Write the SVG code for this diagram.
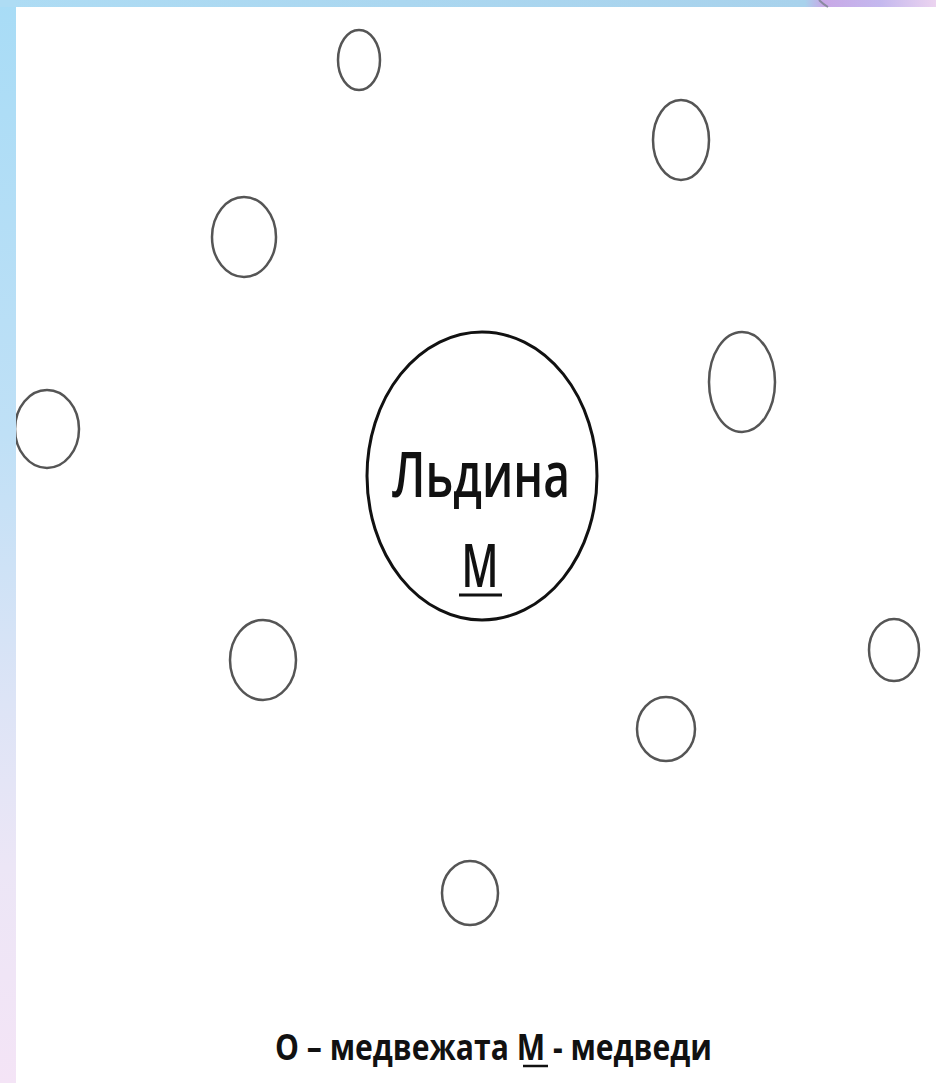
<svg xmlns="http://www.w3.org/2000/svg" width="936" height="1083" viewBox="0 0 936 1083">
<defs>
<linearGradient id="lg" x1="0" y1="0" x2="0" y2="1">
<stop offset="0" stop-color="#a8dcf6"/>
<stop offset="0.4" stop-color="#bfe0f6"/>
<stop offset="0.65" stop-color="#dde4f6"/>
<stop offset="0.8" stop-color="#ece6f6"/>
<stop offset="1" stop-color="#f4e4f6"/>
</linearGradient>
<linearGradient id="tg" x1="0" y1="0" x2="1" y2="0">
<stop offset="0" stop-color="#aedcf4"/>
<stop offset="0.86" stop-color="#a8d2ec"/>
<stop offset="0.88" stop-color="#c8a8e6"/>
<stop offset="0.94" stop-color="#c4b8ee"/>
<stop offset="1" stop-color="#ecd4f0"/>
</linearGradient>
<style>
.s{fill:none;stroke:#555;stroke-width:2.5}
.t{font-family:"Open Sans","Liberation Sans",sans-serif;fill:#111}
</style>
</defs>
<rect x="0" y="0" width="936" height="1083" fill="#fff"/>
<rect x="0" y="0" width="936" height="7" fill="url(#tg)"/>
<path d="M819 0 Q823 4 828 7" stroke="#8a8aa0" stroke-width="2" fill="none"/>
<g id="main">
<ellipse cx="482" cy="476" rx="115" ry="144" fill="none" stroke="#111" stroke-width="3"/>
<text class="t" x="481" y="497" font-size="64" font-weight="600" text-anchor="middle" textLength="178" lengthAdjust="spacingAndGlyphs">Льдина</text>
<text class="t" x="480" y="587" font-size="60" font-weight="600" text-anchor="middle" textLength="37" lengthAdjust="spacingAndGlyphs">М</text>
<line x1="459" y1="595" x2="502" y2="595" stroke="#111" stroke-width="3"/>
</g>
<g id="c1"><ellipse class="s" cx="359" cy="60" rx="21" ry="30"/></g>
<g id="c2"><ellipse class="s" cx="681" cy="140" rx="28" ry="40"/></g>
<g id="c3"><ellipse class="s" cx="244" cy="237" rx="32" ry="40"/></g>
<g id="c4"><ellipse class="s" cx="742" cy="382" rx="33" ry="50"/></g>
<g id="c5"><ellipse class="s" cx="47" cy="429" rx="32" ry="39"/></g>
<g id="c6"><ellipse class="s" cx="263" cy="660" rx="33" ry="40"/></g>
<g id="c7"><ellipse class="s" cx="894" cy="650" rx="25" ry="31"/></g>
<g id="c8"><ellipse class="s" cx="666" cy="729" rx="29" ry="32"/></g>
<g id="c9"><ellipse class="s" cx="470" cy="893" rx="28" ry="32"/></g>
<rect x="0" y="0" width="16" height="1083" fill="url(#lg)"/>
<rect x="0" y="0" width="16" height="7" fill="#aedcf4"/>
<g id="legend">
<text class="t" x="275" y="1060" font-size="36" font-weight="700" textLength="437" lengthAdjust="spacingAndGlyphs">О – медвежата М - медведи</text>
<line x1="523" y1="1066" x2="548" y2="1066" stroke="#111" stroke-width="2.5"/>
</g>
</svg>
